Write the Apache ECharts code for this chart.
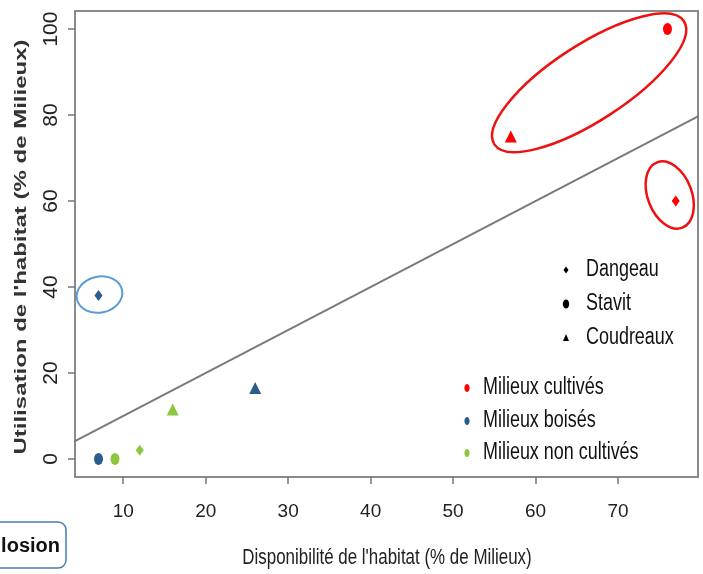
<!DOCTYPE html>
<html><head><meta charset="utf-8">
<script src="https://cdn.jsdelivr.net/npm/echarts@6/dist/echarts.min.js"></script>
<style>html,body{margin:0;padding:0;background:#fff}#c{width:703px;height:574px}</style>
</head><body><div id="c"></div>
<script>
// ---- data ----
const sites = ['Dangeau', 'Stavit', 'Coudreaux'];
const habitats = ['Milieux cultivés', 'Milieux boisés', 'Milieux non cultivés'];
// availability (x) and use (y) per habitat, ordered as `sites`
const cultivesX = [77, 76, 57];
const cultivesY = [60, 100, 75];
const boisesX = [7, 7, 26];
const boisesY = [38, 0, 16.5];
const nonCultivesX = [12, 9, 16];
const nonCultivesY = [2, 0, 11.5];
// 1:1 reference line
const refLineX = [0, 100];
const refLineY = [0, 100];
const xTicks = [10, 20, 30, 40, 50, 60, 70];
const yTicks = [0, 20, 40, 60, 80, 100];
const xTitle = 'Disponibilité de l\'habitat (% de Milieux)';
const yTitle = 'Utilisation de l\'habitat (% de Milieux)';
const boxLabel = 'losion';
// circled groups: habitat index, site indices
const circledHabitat = [0, 0, 1];
const circledSites = [[1, 2], [0], [0]];

// ---- styles ----
const FONT = "'Liberation Sans',Arial,sans-serif";
const habitatColors = ['#ff0000', '#2c5d8a', '#8cc63f'];
const siteSymbols = ['diamond', 'circle', 'triangle'];
const siteSizes = [[8, 11], [9, 12], [12, 12]];
const ellipseStyles = [
  {rx: 113, ry: 38, rot: 0.576, color: '#ee1111', lw: 2.5, dx: 0, dy: 0},
  {rx: 35, ry: 22, rot: 1.94, color: '#ee1111', lw: 2.5, dx: -6, dy: -6},
  {rx: 23, ry: 18, rot: 0.2, color: '#5b9bd5', lw: 2, dx: 1, dy: -1}
];
const xs = [cultivesX, boisesX, nonCultivesX];
const ys = [cultivesY, boisesY, nonCultivesY];

const ellipseData = circledSites.map((ss, k) => {
  const h = circledHabitat[k];
  const cx = ss.reduce((a, s) => a + xs[h][s], 0) / ss.length;
  const cy = ss.reduce((a, s) => a + ys[h][s], 0) / ss.length;
  return [cx, cy];
});

const chart = echarts.init(document.getElementById('c'), null, {renderer: 'canvas'});

const scatterSeries = habitats.map((name, h) => ({
  name, type: 'scatter', z: 5,
  itemStyle: {color: habitatColors[h], opacity: 1},
  data: sites.map((s, i) => ({value: [xs[h][i], ys[h][i]], symbol: siteSymbols[i], symbolSize: siteSizes[i]}))
}));

const G = [];
// legend: sites
const legSiteY = [270, 304, 338];
G.push({type: 'polygon', shape: {points: [[566, 266.5], [568.5, 270], [566, 273.5], [563.5, 270]]}, style: {fill: '#000'}});
G.push({type: 'ellipse', shape: {cx: 566, cy: 304, rx: 3.2, ry: 4.5}, style: {fill: '#000'}});
G.push({type: 'polygon', shape: {points: [[566, 334], [569, 341], [563, 341]]}, style: {fill: '#000'}});
sites.forEach((s, i) => G.push({type: 'text', x: 586, y: legSiteY[i], scaleX: 0.78, style: {text: s, font: '23px ' + FONT, fill: '#111', verticalAlign: 'middle'}}));
const legHabY = [388, 421, 453];
habitats.forEach((hname, h) => {
  G.push({type: 'ellipse', shape: {cx: 467, cy: legHabY[h], rx: 2.6, ry: 4}, style: {fill: habitatColors[h]}});
  G.push({type: 'text', x: 483, y: legHabY[h], scaleX: 0.78, style: {text: hname, font: '23px ' + FONT, fill: '#111', verticalAlign: 'middle'}});
});
// axis titles
G.push({type: 'text', x: 387, y: 558, scaleX: 0.77, style: {text: xTitle, font: '22px ' + FONT, fill: '#222', align: 'center', verticalAlign: 'middle'}});
G.push({type: 'text', x: 22, y: 247, rotation: Math.PI / 2, scaleY: 0.66, style: {text: yTitle, font: 'bold 24px ' + FONT, fill: '#333', align: 'center', verticalAlign: 'middle'}});
// partial box label
G.push({type: 'rect', shape: {x: -20, y: 522, width: 86, height: 46, r: 8}, style: {fill: '#fff', stroke: '#4a7ab5', lineWidth: 1.5}});
G.push({type: 'text', x: 60, y: 546, style: {text: boxLabel, font: 'bold 20px ' + FONT, fill: '#111', align: 'right', verticalAlign: 'middle'}});

chart.setOption({
  animation: false,
  backgroundColor: '#fff',
  grid: {left: 75, right: 5, top: 11, bottom: 97, show: true, borderColor: '#8a8a8a', borderWidth: 2, backgroundColor: 'transparent'},
  xAxis: {
    type: 'value', min: 4.15, max: 79.7,
    axisLine: {show: false, onZero: false},
    axisTick: {show: true, inside: false, length: 7, customValues: xTicks, lineStyle: {color: '#777', width: 1.5}},
    axisLabel: {customValues: xTicks, margin: 25, fontSize: 19, fontFamily: FONT, color: '#222'},
    splitLine: {show: false}
  },
  yAxis: {
    type: 'value', min: -4.2, max: 104.2,
    axisLine: {show: false, onZero: false},
    axisTick: {show: true, inside: false, length: 7, customValues: yTicks, lineStyle: {color: '#777', width: 1.5}},
    axisLabel: {customValues: yTicks, rotate: 90, margin: 13, fontSize: 21, fontFamily: FONT, color: '#222'},
    splitLine: {show: false}
  },
  series: [
    {type: 'line', z: 2, clip: true, symbol: 'none', silent: true,
     lineStyle: {color: '#7a7a7a', width: 2},
     data: refLineX.map((x, i) => [x, refLineY[i]])},
    ...scatterSeries,
    {type: 'custom', z: 6, clip: false, silent: true,
     data: ellipseData,
     renderItem: (params, api) => {
       const p = api.coord([api.value(0), api.value(1)]);
       const st = ellipseStyles[params.dataIndex];
       return {type: 'ellipse', x: p[0] + st.dx, y: p[1] + st.dy, rotation: st.rot,
               shape: {cx: 0, cy: 0, rx: st.rx, ry: st.ry},
               style: {fill: 'none', stroke: st.color, lineWidth: st.lw}};
     }}
  ],
  graphic: G
});
</script></body></html>
